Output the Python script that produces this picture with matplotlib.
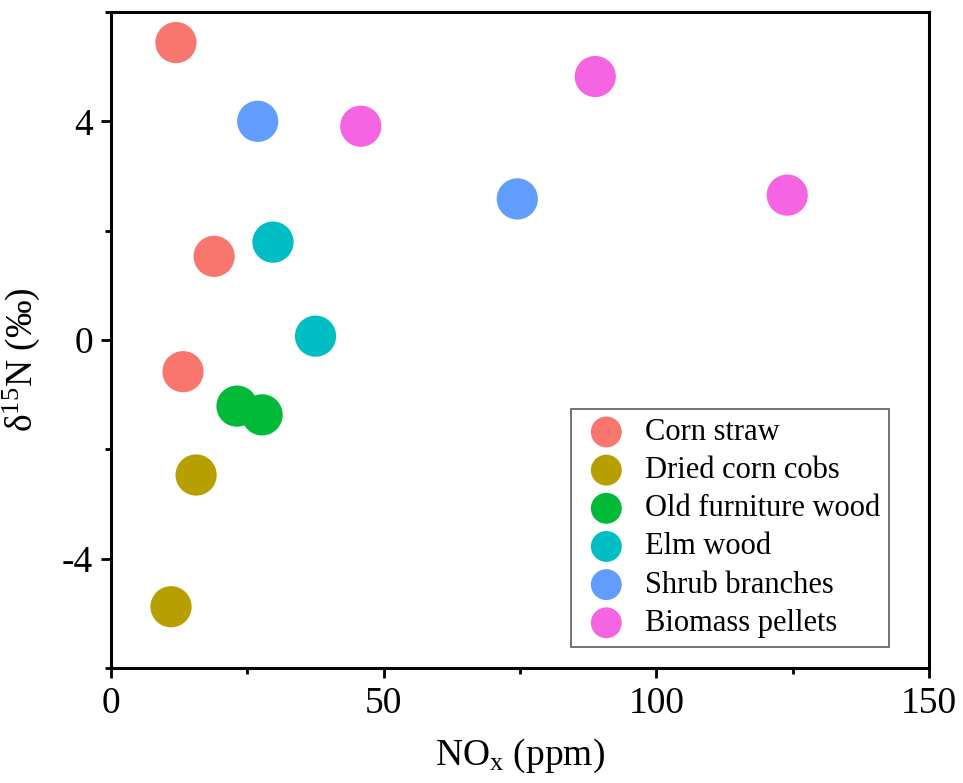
import matplotlib
matplotlib.use('Agg')
import matplotlib.pyplot as plt
from matplotlib.ticker import MultipleLocator

plt.rcParams['font.family'] = 'Liberation Serif'
plt.rcParams['mathtext.fontset'] = 'custom'
plt.rcParams['mathtext.rm'] = 'Liberation Serif'
plt.rcParams['mathtext.it'] = 'Liberation Serif:italic'
plt.rcParams['axes.unicode_minus'] = False

labels = ['Corn straw', 'Dried corn cobs', 'Old furniture wood',
          'Elm wood', 'Shrub branches', 'Biomass pellets']
colors = ['#F8766D', '#B79F00', '#00BA38', '#00BFC4', '#619CFF', '#F564E3']
nox = [[11.9, 18.9, 13.2],
       [15.6, 11.0],
       [23.1, 27.7],
       [29.7, 37.5],
       [26.9, 74.5],
       [45.8, 88.8, 124.0]]
d15n = [[5.44, 1.53, -0.58],
        [-2.47, -4.88],
        [-1.21, -1.37],
        [1.79, 0.07],
        [4.00, 2.58],
        [3.91, 4.82, 2.65]]

fig = plt.figure(figsize=(9.63, 7.83), dpi=100)
ax = fig.add_axes([0.1153, 0.1469, 0.8494, 0.8378])

for lab, col, xs, ys in zip(labels, colors, nox, d15n):
    ax.scatter(xs, ys, s=880, color=col, edgecolors='none', label=lab)

ax.set_xlim(0, 150)
ax.set_ylim(-6, 6)
ax.xaxis.set_major_locator(MultipleLocator(50))
ax.xaxis.set_minor_locator(MultipleLocator(25))
ax.yaxis.set_major_locator(MultipleLocator(4))
ax.yaxis.set_minor_locator(MultipleLocator(2))
ax.tick_params(which='major', direction='out', length=7, width=2, labelsize=27, pad=6)
ax.tick_params(which='minor', direction='out', length=4, width=2)
for sp in ax.spines.values():
    sp.set_linewidth(2.2)

ax.set_xlabel('NO$_{\\mathrm{x}}$ (ppm)', fontsize=27, labelpad=12)
ax.set_ylabel('δ$^{\\mathrm{15}}$N (‰)', fontsize=27)
ax.yaxis.set_label_coords(-0.085, 0.47)

leg = ax.legend(loc='lower right', bbox_to_anchor=(0.951, 0.032), fontsize=22,
                frameon=True, fancybox=False, edgecolor='#333333',
                markerscale=0.75, handletextpad=0.4, labelspacing=0.3,
                borderpad=0.3, handlelength=1.7, scatterpoints=1,
                borderaxespad=0)
leg.get_frame().set_linewidth(1.2)

fig.savefig('out.png', dpi=100)
